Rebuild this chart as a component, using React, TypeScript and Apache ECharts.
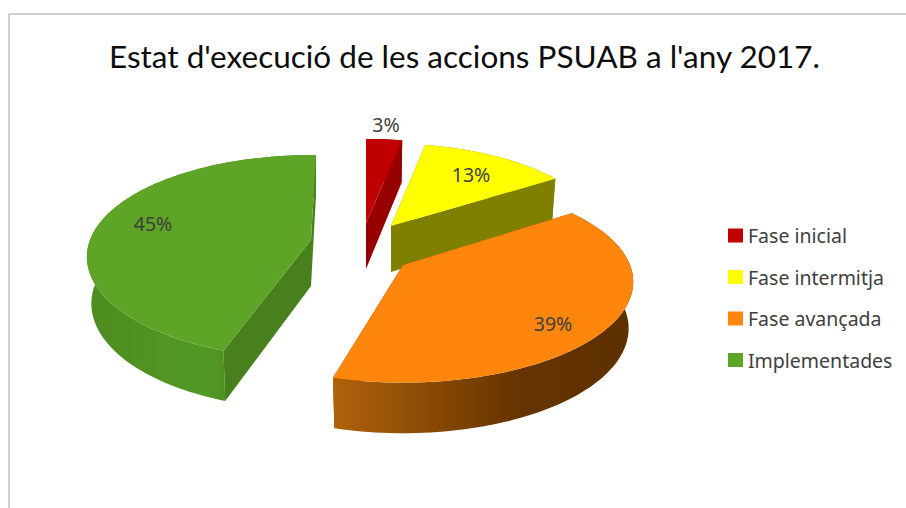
import React, { useEffect, useRef } from "react";
import * as echarts from "echarts";

const titleText = "Estat d'execució de les accions PSUAB a l'any 2017.";
const categories = ["Fase inicial", "Fase intermitja", "Fase avançada", "Implementades"];
const values = [3, 13, 39, 45];

const topColors = ["#C00000", "#FFFF00", "#FF860D", "#5EA426"];
const sideColors = ["#960000", "#808000", "#7A4004", "#47801C"];
const rimStops = [
  [["#960000", 0], ["#960000", 1]],
  [["#808000", 0], ["#808000", 1]],
  [["#B0620A", 0], ["#653400", 0.62], ["#5E3000", 1]],
  [["#4E8C20", 0], ["#539823", 0.5], ["#417A19", 1]],
];

// layout of the exploded perspective disc
const center = [360, 232];
const explode = [[6, -9], [31, -6], [43, 33], [-49, 8]];
const radiusX = [225, 212, 227, 221];
const radiusY = [98, 96, 98, 99];
const rotate = [0, 0, -3, 1.5];
const labelAt = [[386, 124], [471, 174], [553, 323], [153, 223]];
const depth = 46;
const persp = 1 / 6;
const total = values.reduce((a, b) => a + b, 0);

const renderSlice = (params: any, api: any) => {
  const i = params.seriesIndex;
  const before = values.slice(0, i).reduce((a, b) => a + b, 0);
  const a0 = (before / total) * 360 + rotate[i];
  const a1 = a0 + (api.value(0) / total) * 360;
  const ax = center[0] + explode[i][0];
  const ay = center[1] + explode[i][1];

  const rimTop = (deg: number) => {
    const t = (deg * Math.PI) / 180;
    const X = Math.sin(t);
    const Y = -Math.cos(t);
    const p = 1 / (1 - persp * Y);
    return { x: X * p * radiusX[i], y: Y * p * radiusY[i], p };
  };
  const top = (q: any) => [ax + q.x, ay + q.y];
  const bottom = (q: any) => [ax + q.x * 0.98, ay + q.y + depth * (1 + 0.5 * (q.p - 1))];

  const rim: any[] = [];
  const steps = Math.max(4, Math.ceil((a1 - a0) / 1.5));
  for (let s = 0; s <= steps; s++) rim.push(rimTop(a0 + ((a1 - a0) * s) / steps));
  const apex = { x: 0, y: 0, p: 1 };
  const mid = rimTop((a0 + a1) / 2);

  const isFront = (q: any) => {
    let nx = -q.y;
    let ny = q.x;
    if (nx * mid.x + ny * mid.y > 0) {
      nx = -nx;
      ny = -ny;
    }
    return ny > 0;
  };
  const wall = (q: any) => ({
    type: "polygon",
    shape: { points: [top(apex), top(q), bottom(q), bottom(apex)] },
    style: { fill: sideColors[i] },
    silent: true,
  });
  const first = rim[0];
  const last = rim[rim.length - 1];
  const radial = [first, last];

  const children: any[] = [];
  radial.filter((q) => !isFront(q)).forEach((q) => children.push(wall(q)));
  children.push({
    type: "polygon",
    shape: { points: [...rim.map(top), ...rim.slice().reverse().map(bottom)] },
    style: {
      fill: new echarts.graphic.LinearGradient(
        0, 0, 1, 0,
        rimStops[i].map(([color, offset]: any) => ({ color, offset })),
      ),
    },
    silent: true,
  });
  radial.filter((q) => isFront(q)).forEach((q) => children.push(wall(q)));
  children.push({
    type: "polygon",
    shape: { points: [top(apex), ...rim.map(top)] },
    style: { fill: topColors[i] },
    silent: true,
  });
  children.push({
    type: "text",
    x: labelAt[i][0],
    y: labelAt[i][1],
    silent: true,
    style: {
      text: `${api.value(0)}%`,
      fill: "#404040",
      font: '19.5px "Noto Sans", sans-serif',
      align: "center",
      verticalAlign: "middle",
    },
  });
  return { type: "group", children };
};

export default function App() {
  const ref = useRef<HTMLDivElement>(null);
  useEffect(() => {
    const chart = echarts.init(ref.current as HTMLDivElement, undefined, { renderer: "svg" });
    chart.setOption({
      animation: false,
      backgroundColor: "#ffffff",
      title: {
        text: titleText,
        left: 104,
        top: 35,
        textStyle: { fontFamily: "Lato", fontSize: 31.5, fontWeight: "normal", color: "#0d0d0d" },
      },
      legend: {
        orient: "vertical",
        left: 723,
        top: 220.5,
        itemWidth: 15,
        itemHeight: 14,
        itemGap: 21.5,
        itemStyle: { borderWidth: 0 },
        icon: "rect",
        data: categories,
        textStyle: { fontFamily: "Noto Sans", fontSize: 19.5, color: "#404040" },
      },
      graphic: [
        { type: "line", shape: { x1: 9, y1: 14, x2: 906, y2: 14 }, style: { stroke: "#cfcfcf", lineWidth: 2 }, silent: true },
        { type: "line", shape: { x1: 9, y1: 14, x2: 9, y2: 508 }, style: { stroke: "#cfcfcf", lineWidth: 2 }, silent: true },
      ],
      series: categories.map((name, i) => ({
        type: "custom",
        name,
        coordinateSystem: "none",
        renderItem: renderSlice,
        itemStyle: { color: topColors[i] },
        data: [[values[i]]],
      })),
    });
    return () => chart.dispose();
  }, []);
  return <div ref={ref} style={{ position: "fixed", left: 0, top: 0, width: 906, height: 508 }} />;
}
